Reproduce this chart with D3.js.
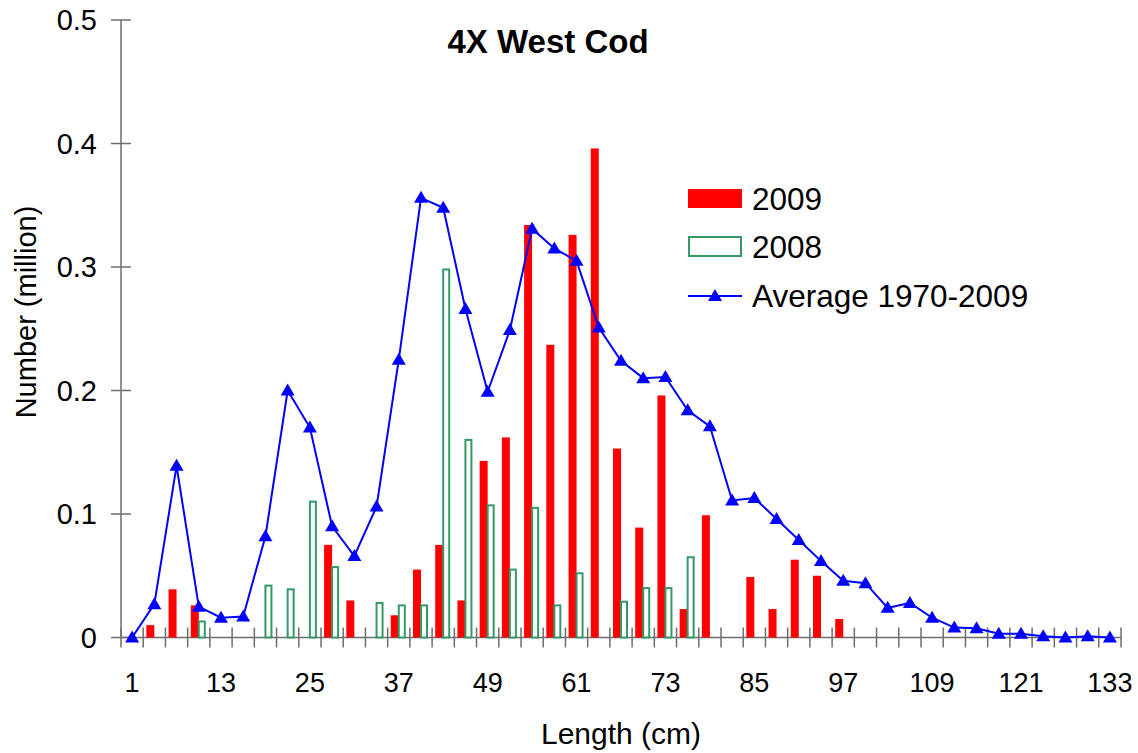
<!DOCTYPE html>
<html>
<head>
<meta charset="utf-8">
<script src="https://cdn.jsdelivr.net/npm/d3@7"></script>
<style>
  html, body { margin: 0; padding: 0; background: #fff; }
  svg { display: block; font-family: "Liberation Sans", Arial, sans-serif; }
</style>
</head>
<body>
<svg id="chart" width="1138" height="753"></svg>
<script>
// Length classes (cm)
const lengths = [1,4,7,10,13,16,19,22,25,28,31,34,37,40,43,46,49,52,55,58,61,64,67,70,73,76,79,82,85,88,91,94,97,100,103,106,109,112,115,118,121,124,127,130,133];
// 2009 numbers (million)
const values2009 = [0,0.010,0.039,0.026,0,0,0,0,0,0.075,0.030,0,0.018,0.055,0.075,0.030,0.143,0.162,0.334,0.237,0.326,0.396,0.153,0.089,0.196,0.023,0.099,0,0.049,0.023,0.063,0.050,0.015,0,0,0,0,0,0,0,0,0,0,0,0];
// 2008 numbers (million)
const values2008 = [0,0,0,0.013,0,0,0.042,0.039,0.110,0.057,0,0.028,0.026,0.026,0.298,0.160,0.107,0.055,0.105,0.026,0.052,0,0.029,0.040,0.040,0.065,0,0,0,0,0,0,0,0,0,0,0,0,0,0,0,0,0,0,0];
// Average 1970-2009 (million)
const valuesAvg = [0,0.027,0.139,0.025,0.016,0.017,0.082,0.200,0.170,0.090,0.066,0.106,0.225,0.356,0.348,0.266,0.199,0.249,0.331,0.315,0.305,0.251,0.224,0.210,0.211,0.184,0.171,0.111,0.113,0.096,0.079,0.062,0.046,0.044,0.024,0.028,0.016,0.008,0.0075,0.003,0.003,0.001,0,0.001,0];
const xTickLabels = [1,13,25,37,49,61,73,85,97,109,121,133];
const yTicks = [0,0.1,0.2,0.3,0.4,0.5];
const seriesNames = ["2009","2008","Average 1970-2009"];
const chartTitle = "4X West Cod";

(function () {
const svg = d3.select("#chart");
const pLeft = 121, pRight = 1121, pTop = 20, pBottom = 637.5;

const x = d3.scaleBand().domain(lengths).range([pLeft, pRight]).padding(0);
const y = d3.scaleLinear().domain([0, 0.5]).range([pBottom, pTop]);
const bw = x.bandwidth();
const cx = d => x(d) + bw / 2;

const axisColor = "#6e6e6e";

// Y axis
svg.append("line").attr("x1", pLeft).attr("x2", pLeft).attr("y1", y(0.5)).attr("y2", y(0))
  .attr("stroke", axisColor).attr("stroke-width", 1.5);
svg.selectAll(".ytick").data(yTicks).enter().append("line")
  .attr("x1", pLeft - 10).attr("x2", pLeft + 10)
  .attr("y1", d => y(d)).attr("y2", d => y(d))
  .attr("stroke", axisColor).attr("stroke-width", 1.5);
svg.selectAll(".ylab").data(yTicks).enter().append("text")
  .attr("x", 97).attr("y", d => y(d)).attr("dy", "0.36em")
  .attr("text-anchor", "end").attr("font-size", 29).attr("fill", "#000")
  .text(d => d === 0 ? "0" : d3.format(".1f")(d));

// X axis
svg.append("line").attr("x1", pLeft).attr("x2", pRight).attr("y1", y(0)).attr("y2", y(0))
  .attr("stroke", axisColor).attr("stroke-width", 1.5);
const bounds = lengths.map(d => x(d)).concat([pRight]);
svg.selectAll(".xtick").data(bounds).enter().append("line")
  .attr("x1", d => d).attr("x2", d => d)
  .attr("y1", y(0) - 10).attr("y2", y(0) + 10)
  .attr("stroke", axisColor).attr("stroke-width", 1.5);
svg.selectAll(".xlab").data(xTickLabels).enter().append("text")
  .attr("x", d => cx(d)).attr("y", 692)
  .attr("text-anchor", "middle").attr("font-size", 27).attr("fill", "#000")
  .text(d => d);

// Bars 2009
const barW = 8;
svg.selectAll(".b09").data(lengths.map((l, i) => [l, values2009[i]]).filter(d => d[1] > 0))
  .enter().append("rect")
  .attr("x", d => cx(d[0]) - barW).attr("width", barW)
  .attr("y", d => y(d[1])).attr("height", d => y(0) - y(d[1]))
  .attr("fill", "#ff0000");

// Bars 2008 (outlined)
const gW = 6;
svg.selectAll(".b08").data(lengths.map((l, i) => [l, values2008[i]]).filter(d => d[1] > 0))
  .enter().append("rect")
  .attr("x", d => cx(d[0])).attr("width", gW)
  .attr("y", d => y(d[1])).attr("height", d => y(0) - y(d[1]))
  .attr("fill", "#fff").attr("stroke", "#339966").attr("stroke-width", 2);

// Average line
const avgData = lengths.map((l, i) => [l, valuesAvg[i]]);
svg.append("path").datum(avgData)
  .attr("d", d3.line().x(d => cx(d[0])).y(d => y(d[1])))
  .attr("fill", "none").attr("stroke", "#0000ff").attr("stroke-width", 2);
const tri = "M0,-7L7,5L-7,5Z";
svg.selectAll(".tri").data(avgData).enter().append("path")
  .attr("d", tri).attr("transform", d => `translate(${cx(d[0])},${y(d[1])})`)
  .attr("fill", "#0000ff");

// Title
svg.append("text").attr("x", 548).attr("y", 53).attr("text-anchor", "middle")
  .attr("font-size", 33).attr("font-weight", "bold").text(chartTitle);

// Axis titles
svg.append("text").attr("transform", "translate(36,312) rotate(-90)")
  .attr("text-anchor", "middle").attr("font-size", 29).text("Number (million)");
svg.append("text").attr("x", 621).attr("y", 744).attr("text-anchor", "middle")
  .attr("font-size", 30).text("Length (cm)");

// Legend
const lg = svg.append("g");
lg.append("rect").attr("x", 688).attr("y", 189).attr("width", 54).attr("height", 19).attr("fill", "#ff0000");
lg.append("rect").attr("x", 689).attr("y", 237).attr("width", 52).attr("height", 19)
  .attr("fill", "#fff").attr("stroke", "#339966").attr("stroke-width", 2);
lg.append("line").attr("x1", 688).attr("x2", 742).attr("y1", 296).attr("y2", 296)
  .attr("stroke", "#0000ff").attr("stroke-width", 2);
lg.append("path").attr("d", tri).attr("transform", "translate(715,296)").attr("fill", "#0000ff");
const rows = [199, 247, 296];
lg.selectAll(".lt").data(seriesNames).enter().append("text")
  .attr("x", 752).attr("y", (d, i) => rows[i]).attr("dy", "0.36em")
  .attr("font-size", 31.5).text(d => d);
})();
</script>
</body>
</html>
